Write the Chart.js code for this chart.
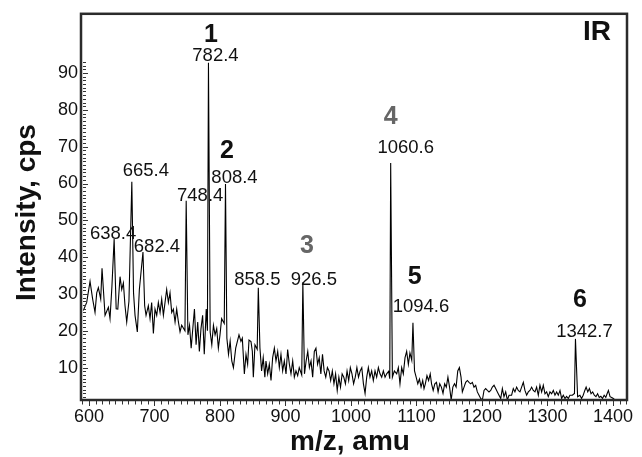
<!DOCTYPE html>
<html>
<head>
<meta charset="utf-8">
<script src="https://cdn.jsdelivr.net/npm/chart.js@4/dist/chart.umd.min.js"></script>
<style>
  html, body { margin: 0; padding: 0; background: #fff; }
  canvas { display: block; }
</style>
</head>
<body>
<canvas id="Chart1" width="642" height="457"></canvas>
<script>
// spectrum, m/z and intensity row by row
const mz = [
  591.4, 596.5, 601.6, 605.6, 609.2, 611.8, 614.3, 617.9, 619.9, 624.5,
  629.6, 632.1, 635.0, 638.4, 641.5, 644.0, 647.4, 650.0, 652.5, 655.0,
  657.6, 661.0, 665.4, 668.0, 670.3, 673.8, 676.9, 682.4, 685.0, 687.1,
  690.6, 693.2, 695.7, 698.3, 700.8, 703.4, 705.9, 708.5, 711.0, 713.6,
  716.1, 718.6, 721.2, 723.7, 726.3, 728.8, 731.4, 733.9, 736.5, 739.0,
  741.5, 746.5, 748.4, 751.0, 753.5, 756.0, 758.5, 761.0, 763.5, 766.0,
  768.5, 771.0, 773.5, 776.0, 779.0, 780.8, 782.4, 785.0, 787.5, 790.0,
  792.5, 795.0, 797.5, 800.0, 802.5, 806.5, 808.4, 810.5, 813.0, 815.5,
  818.0, 820.5, 824.0, 829.0, 832.0, 834.1, 837.2, 839.7, 842.2, 844.3,
  847.3, 849.4, 850.9, 853.4, 856.8, 858.5, 861.0, 863.5, 866.0, 868.5,
  870.2, 872.8, 875.3, 877.9, 880.4, 883.0, 885.5, 888.1, 890.6, 893.1,
  895.7, 898.2, 900.8, 903.3, 905.9, 908.4, 911.0, 913.5, 916.0, 918.6,
  921.0, 924.8, 926.5, 929.0, 931.5, 934.0, 936.5, 939.0, 941.5, 944.0,
  946.5, 949.0, 951.5, 954.0, 956.5, 959.0, 961.5, 964.0, 966.5, 969.0,
  971.5, 974.0, 976.5, 979.0, 981.5, 984.0, 986.5, 989.0, 991.5, 994.0,
  996.5, 999.0, 1001.5, 1004.0, 1006.5, 1009.0, 1011.5, 1014.0, 1016.5, 1019.0,
  1021.5, 1024.0, 1026.5, 1029.0, 1031.6, 1034.1, 1036.7, 1039.2, 1041.8, 1044.3,
  1046.9, 1049.4, 1052.0, 1054.5, 1057.5, 1059.2, 1060.6, 1063.2, 1066.2, 1069.8,
  1072.3, 1074.8, 1077.4, 1079.9, 1082.5, 1085.0, 1087.6, 1090.0, 1092.8, 1094.6,
  1097.0, 1099.5, 1102.0, 1104.5, 1107.0, 1109.5, 1111.5, 1113.5, 1116.0, 1118.5,
  1121.0, 1123.0, 1125.5, 1128.0, 1130.5, 1133.0, 1135.5, 1138.0, 1140.5, 1143.0,
  1145.5, 1148.0, 1150.5, 1153.0, 1155.5, 1158.0, 1160.5, 1163.0, 1165.5, 1168.0,
  1170.0, 1172.6, 1175.1, 1177.7, 1180.2, 1182.7, 1185.3, 1187.8, 1190.4, 1192.9,
  1195.5, 1198.0, 1200.6, 1203.1, 1205.6, 1208.2, 1210.7, 1213.3, 1215.8, 1218.4,
  1220.9, 1223.5, 1226.0, 1228.6, 1231.1, 1233.6, 1236.2, 1238.7, 1241.3, 1245.2,
  1247.8, 1250.3, 1252.9, 1255.4, 1258.0, 1260.5, 1263.1, 1265.6, 1268.2, 1270.7,
  1273.2, 1275.8, 1278.3, 1280.9, 1283.4, 1286.0, 1288.5, 1291.1, 1293.6, 1296.2,
  1298.7, 1301.2, 1303.8, 1306.3, 1308.9, 1311.4, 1314.0, 1316.5, 1319.1, 1321.6,
  1324.1, 1326.7, 1329.2, 1331.8, 1334.3, 1338.0, 1341.2, 1342.7, 1346.0, 1349.5,
  1352.0, 1354.5, 1357.0, 1359.0, 1361.5, 1364.0, 1366.5, 1369.0, 1371.5, 1374.0,
  1376.5, 1379.0, 1381.5, 1384.0, 1386.5, 1389.0, 1391.0, 1393.0, 1395.5, 1398.0,
  1400.5, 1403.0
];
const intensity = [
  25.5, 27.7, 33.4, 28.6, 25.0, 30.3, 31.7, 28.6, 37.0, 24.2,
  26.4, 23.3, 32.0, 44.9, 26.0, 25.9, 34.7, 31.2, 33.0, 26.8,
  22.4, 28.0, 60.5, 30.3, 24.2, 19.7, 31.2, 41.4, 26.8, 24.2,
  26.8, 23.3, 27.7, 19.3, 25.9, 24.2, 27.7, 25.0, 28.6, 24.2,
  27.7, 31.2, 27.7, 30.3, 25.0, 25.9, 22.4, 25.9, 22.4, 19.7,
  21.5, 20.0, 55.3, 18.9, 21.5, 15.3, 20.6, 25.9, 16.2, 22.4,
  14.4, 20.6, 24.2, 13.6, 25.9, 20.0, 92.8, 19.7, 16.2, 21.5,
  18.9, 20.6, 15.3, 18.9, 23.3, 22.0, 59.9, 18.0, 13.6, 17.2,
  11.8, 10.0, 15.3, 18.9, 17.1, 18.0, 8.3, 13.6, 10.9, 17.5,
  17.1, 14.4, 7.4, 16.2, 15.0, 31.7, 15.3, 9.1, 12.7, 7.4,
  11.8, 8.3, 10.9, 6.5, 12.7, 15.3, 11.8, 14.4, 10.0, 13.6,
  9.1, 11.8, 8.3, 14.9, 10.9, 8.3, 11.8, 7.4, 9.1, 7.8,
  10.0, 8.0, 33.2, 8.3, 11.8, 14.4, 10.0, 11.8, 7.4, 14.4,
  15.3, 10.9, 12.7, 8.3, 13.6, 9.1, 7.4, 10.0, 9.1, 6.5,
  9.1, 5.6, 8.3, 3.8, 7.4, 4.7, 8.3, 7.4, 5.6, 9.1,
  6.5, 10.0, 8.3, 5.6, 7.4, 10.0, 7.4, 9.1, 10.0, 5.6,
  3.0, 7.4, 10.0, 7.4, 9.1, 6.5, 9.1, 7.4, 10.0, 8.3,
  7.4, 9.1, 7.4, 8.3, 9.0, 7.0, 65.6, 7.4, 9.1, 8.3,
  10.0, 5.6, 10.0, 8.3, 12.7, 14.4, 10.9, 14.0, 12.0, 22.2,
  9.1, 7.4, 5.6, 6.9, 4.7, 6.5, 4.3, 5.6, 7.8, 6.5,
  8.3, 5.6, 3.8, 5.6, 6.0, 3.4, 5.6, 4.7, 3.0, 5.6,
  4.7, 7.4, 4.7, 1.2, 4.7, 5.6, 4.7, 9.1, 10.0, 7.4,
  3.4, 4.7, 6.0, 6.5, 6.0, 5.6, 6.0, 4.7, 5.2, 3.4,
  2.5, 1.6, 1.2, 3.8, 4.3, 3.8, 3.4, 3.8, 4.7, 5.2,
  4.3, 3.4, 2.5, 1.6, 4.3, 2.1, 3.4, 1.2, 2.5, 2.5,
  4.3, 3.4, 4.7, 3.8, 3.4, 4.7, 6.0, 3.8, 2.5, 3.4,
  3.8, 4.7, 3.8, 3.4, 4.7, 2.5, 5.2, 3.4, 5.2, 2.9,
  3.4, 2.1, 3.4, 2.9, 3.8, 2.5, 3.4, 2.5, 3.8, 1.6,
  2.5, 1.6, 2.2, 1.6, 2.5, 2.5, 3.0, 17.8, 2.1, 2.5,
  1.6, 2.5, 3.8, 4.7, 3.4, 4.3, 2.9, 3.4, 2.5, 2.1,
  2.9, 1.9, 2.2, 1.6, 2.5, 1.9, 2.9, 3.8, 2.1, 1.9,
  1.6, 1.2
];

// labelled peaks
const peakMz = [638.4, 665.4, 682.4, 748.4, 782.4, 808.4, 858.5, 926.5, 1060.6, 1094.6, 1342.7];
const peakLabels = ['638.4', '665.4', '682.4', '748.4', '782.4', '808.4', '858.5', '926.5', '1060.6', '1094.6', '1342.7'];
const peakNumbers = ['', '', '', '', '1', '2', '', '3', '4', '5', '6'];

const xTicks = [600, 700, 800, 900, 1000, 1100, 1200, 1300, 1400];
const xTickLabels = ['600', '700', '800', '900', '1000', '1100', '1200', '1300', '1400'];
const yTicks = [10, 20, 30, 40, 50, 60, 70, 80, 90];
const yTickLabels = ['10', '20', '30', '40', '50', '60', '70', '80', '90'];

if (mz.length !== intensity.length) console.error('length mismatch', mz.length, intensity.length);

// label placement, px relative to the peak top (text centre x, baseline y)
const labelOffset = [[-1, 0], [14, -6], [14, 0], [14, 0], [7, -1.5], [9, -0.7], [-1, -3], [11, 2.5], [15, -10], [8, -10.7], [9, -2.3]];
const numberOffset = [null, null, null, null, [2.5, -21], [1.5, -25.4], null, [4, -29], [0, -39], [1.7, -39], [4.5, -32.3]];
const numberColor = ['', '', '', '', '#111', '#111', '', '#666', '#666', '#111', '#111'];

const FONT = '"Liberation Sans", Arial, Helvetica, sans-serif';

const decorations = {
    id: 'decorations',
    afterDatasetsDraw(chart) {
        const { ctx, chartArea: a, scales: { x, y } } = chart;
        ctx.save();

        // frame
        ctx.strokeStyle = '#2b2b2b';
        ctx.lineWidth = 2.5;
        ctx.strokeRect(a.left, a.top, a.right - a.left, a.bottom - a.top);

        // minor ticks
        ctx.lineWidth = 1;
        ctx.strokeStyle = '#333';
        ctx.beginPath();
        for (let m = 590; m <= 1420; m += 10) {
            const px = Math.round(x.getPixelForValue(m)) + 0.5;
            ctx.moveTo(px, a.bottom + 1);
            ctx.lineTo(px, a.bottom + (m % 100 === 0 ? 6 : 4.5));
        }
        for (let v = 2; v <= 93; v++) {
            const py = Math.round(y.getPixelForValue(v)) + 0.5;
            ctx.moveTo(a.left + 2, py);
            ctx.lineTo(a.left + (v % 10 === 0 ? 7 : 5), py);
        }
        ctx.stroke();

        // peak labels
        ctx.textAlign = 'center';
        ctx.textBaseline = 'alphabetic';
        peakMz.forEach((m, i) => {
            const top = intensity[mz.indexOf(m)];
            const px = x.getPixelForValue(m);
            const py = y.getPixelForValue(top);
            ctx.fillStyle = '#111';
            ctx.font = '18.5px ' + FONT;
            ctx.fillText(peakLabels[i], px + labelOffset[i][0], py + labelOffset[i][1]);
            if (peakNumbers[i]) {
                ctx.fillStyle = numberColor[i];
                ctx.font = 'bold 25px ' + FONT;
                ctx.fillText(peakNumbers[i], px + numberOffset[i][0], py + numberOffset[i][1]);
            }
        });

        // panel tag
        ctx.fillStyle = '#111';
        ctx.font = 'bold 28px ' + FONT;
        ctx.textAlign = 'left';
        ctx.fillText('IR', 583, 40);

        // axis titles
        ctx.font = 'bold 28px ' + FONT;
        ctx.textAlign = 'center';
        ctx.fillText('m/z, amu', 350, 450);
        ctx.translate(35, 212.5);
        ctx.rotate(-Math.PI / 2);
        ctx.fillText('Intensity, cps', 0, 0);

        ctx.restore();
    }
};

const ctx1 = document.getElementById('Chart1').getContext('2d');

if (ctx1)
    new Chart(ctx1, {
        type: 'line',
        data: {
            datasets: [{
                label: 'IR',
                data: mz.map((m, i) => ({ x: m, y: intensity[i] })),
                borderWidth: 1.1,
                borderColor: '#000',
                backgroundColor: '#000',
                radius: 0,
                tension: 0
            }]
        },
        options: {
            responsive: false,
            animation: false,
            devicePixelRatio: 1,
            layout: { padding: { top: 4, right: 15, left: 0, bottom: 0 } },
            plugins: {
                legend: { display: false },
                tooltip: { enabled: false }
            },
            scales: {
                x: {
                    type: 'linear',
                    min: 587.8,
                    max: 1421.4,
                    grid: { display: false, drawTicks: false },
                    border: { display: false },
                    afterBuildTicks: s => { s.ticks = xTicks.map(v => ({ value: v })); },
                    afterFit: s => { s.height = 57; },
                    ticks: {
                        autoSkip: false,
                        maxRotation: 0,
                        padding: 6,
                        color: '#111',
                        font: { family: FONT, size: 18 },
                        callback: v => xTickLabels[xTicks.indexOf(v)]
                    }
                },
                y: {
                    type: 'linear',
                    min: 1.2,
                    max: 106.1,
                    grid: { display: false, drawTicks: false },
                    border: { display: false },
                    afterBuildTicks: s => { s.ticks = yTicks.map(v => ({ value: v })); },
                    afterFit: s => { s.width = 81; },
                    ticks: {
                        autoSkip: false,
                        padding: 3,
                        color: '#111',
                        font: { family: FONT, size: 18 },
                        callback: v => yTickLabels[yTicks.indexOf(v)]
                    }
                }
            }
        },
        plugins: [decorations]
    });
</script>
</body>
</html>
